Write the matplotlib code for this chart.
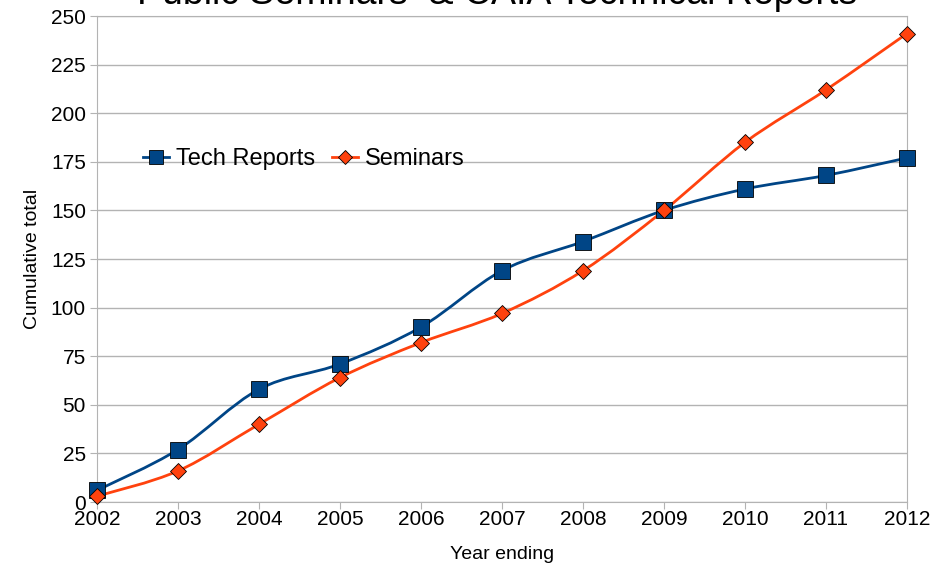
import matplotlib.pyplot as plt
import numpy as np
from matplotlib.path import Path
from matplotlib.patches import PathPatch

plt.rcParams['font.family'] = ['Liberation Sans', 'DejaVu Sans']

years = [2002, 2003, 2004, 2005, 2006, 2007, 2008, 2009, 2010, 2011, 2012]
tech_reports = [6, 27, 58, 71, 90, 119, 134, 150, 161, 168, 177]
seminars = [3, 16, 40, 64, 82, 97, 119, 150, 185, 212, 241]

blue = '#004586'
orange = '#ff420e'


def smooth_path(xs, ys):
    # cubic bezier segments through the points (Catmull-Rom style tangents)
    xs = np.asarray(xs, float)
    ys = np.asarray(ys, float)
    n = len(xs)
    verts = [(xs[0], ys[0])]
    codes = [Path.MOVETO]
    for i in range(n - 1):
        i0 = max(i - 1, 0)
        i3 = min(i + 2, n - 1)
        c1 = (xs[i] + (xs[i + 1] - xs[i0]) / 6, ys[i] + (ys[i + 1] - ys[i0]) / 6)
        c2 = (xs[i + 1] - (xs[i3] - xs[i]) / 6, ys[i + 1] - (ys[i3] - ys[i]) / 6)
        verts += [c1, c2, (xs[i + 1], ys[i + 1])]
        codes += [Path.CURVE4] * 3
    return Path(verts, codes)


fig = plt.figure(figsize=(9.52, 5.64), dpi=100)
ax = fig.add_axes([0.1019, 0.1099, 0.8508, 0.8617])

ax.add_patch(PathPatch(smooth_path(years, tech_reports), fill=False, color=blue, lw=2, zorder=3))
ax.add_patch(PathPatch(smooth_path(years, seminars), fill=False, color=orange, lw=2, zorder=3))
ax.plot(years, tech_reports, ls='none', marker='s', ms=11, mfc=blue, mec='black', mew=0.6,
        zorder=5, clip_on=False)
ax.plot(years, seminars, ls='none', marker='D', ms=8, mfc=orange, mec='black', mew=0.6,
        zorder=5, clip_on=False)

# legend proxies
ax.plot([], [], color=blue, lw=2, marker='s', ms=10, mfc=blue, mec='black', mew=0.6,
        label='Tech Reports')
ax.plot([], [], color=orange, lw=2, marker='D', ms=7, mfc=orange, mec='black', mew=0.6,
        label='Seminars')

ax.set_xlim(2002, 2012)
ax.set_ylim(0, 250)
ax.set_xticks(years)
ax.set_yticks(range(0, 251, 25))
ax.grid(axis='y', color='#b3b3b3', lw=1)
ax.set_axisbelow(True)
for s in ax.spines.values():
    s.set_color('#b3b3b3')
ax.tick_params(colors='#b3b3b3', labelcolor='black', labelsize=15, length=5)
ax.tick_params(axis='x', pad=1)
ax.tick_params(axis='y', pad=3)

ax.set_xlabel('Year ending', fontsize=14, labelpad=12)
ax.set_ylabel('Cumulative total', fontsize=14, labelpad=7)

fig.text(0.5226, 1 - 4.5 / 564, 'Public Seminars  & CAIA Technical Reports', ha='center',
         va='baseline', fontsize=27)

ax.legend(loc='center left', bbox_to_anchor=(0.045, 0.705), ncol=2, frameon=False, fontsize=17,
          handlelength=1.1, handletextpad=0.3, columnspacing=0.7, borderaxespad=0)

fig.savefig('out.png', dpi=100)
